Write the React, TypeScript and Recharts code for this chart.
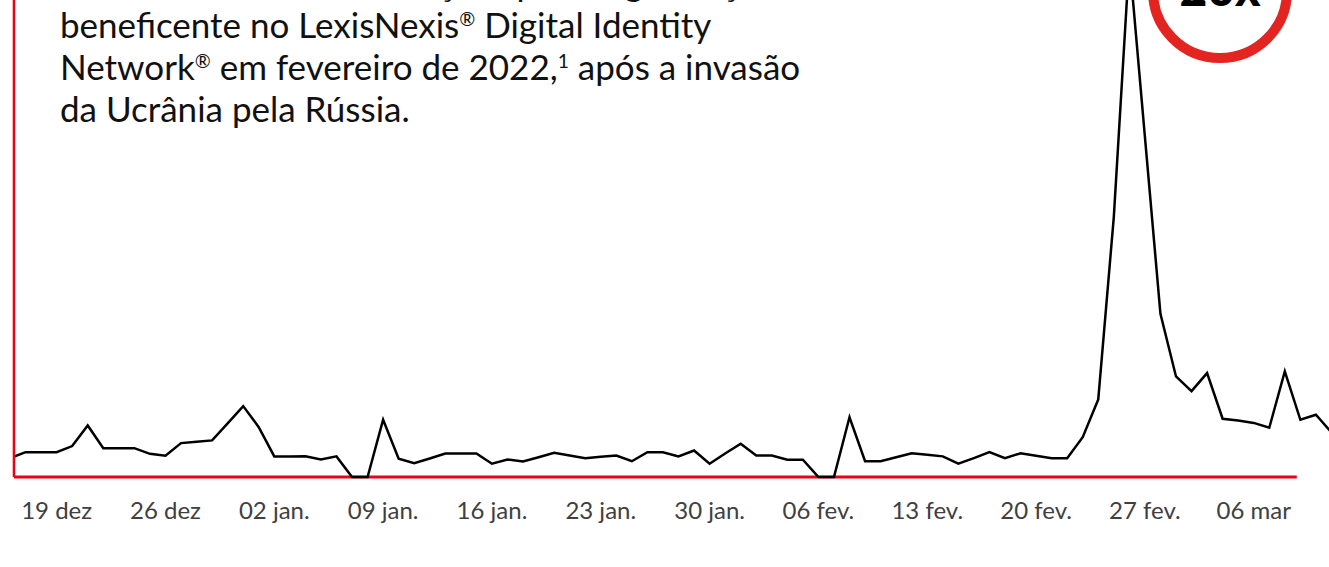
import React from 'react';
import { LineChart, Line, XAxis, YAxis, ReferenceLine } from 'recharts';

// Daily index of charity-donation transactions, 16 dez 2021 (day 0) to 11 mar 2022 (day 85)
const dailyIndex: number[] = [
  0.9, 1.18, 1.18, 1.18, 1.47, 2.45, 1.37, 1.37, 1.37, 1.1,
  1.01, 1.61, 1.67, 1.74, 2.55, 3.37, 2.37, 0.98, 0.98, 0.99,
  0.83, 0.98, 0.0, 0.0, 2.72, 0.87, 0.66, 0.88, 1.12, 1.12,
  1.12, 0.63, 0.83, 0.74, 0.94, 1.15, 1.02, 0.89, 0.96, 1.02,
  0.75, 1.18, 1.18, 0.98, 1.26, 0.63, 1.12, 1.58, 1.02, 1.02,
  0.82, 0.82, 0.0, 0.0, 2.84, 0.75, 0.75, 0.94, 1.13, 1.06,
  0.98, 0.63, 0.9, 1.18, 0.89, 1.13, 1.01, 0.89, 0.89, 1.89,
  3.69, 12.35, 24.62, 16.18, 7.76, 4.78, 4.08, 4.94, 2.77, 2.69,
  2.57, 2.34, 5.02, 2.72, 2.96, 2.12,
];

const tickDays: number[] = [3, 10, 17, 24, 31, 38, 45, 52, 59, 66, 73, 80];
const tickLabels: string[] = [
  '19 dez', '26 dez', '02 jan.', '09 jan.', '16 jan.', '23 jan.',
  '30 jan.', '06 fev.', '13 fev.', '20 fev.', '27 fev.', '06 mar',
];

const titleLines: string[] = [
  'Aumento de 20x em doações para organização',
  'beneficente no LexisNexis',
  'Network',
  'da Ucrânia pela Rússia.',
];

const badgeText = '20x';

const xDomain: [number, number] = [0.257, 86];
const yDomain: [number, number] = [0, 26];
const axisEndDay = 82.77;

const data = dailyIndex.map((value, day) => ({ day, value }));

const RED = '#e3061b';

const Sup = ({ children }: { children: React.ReactNode }) => (
  <span style={{ fontSize: '0.55em', position: 'relative', top: '-0.62em', lineHeight: 1 }}>{children}</span>
);

export default function App() {
  return (
    <div
      style={{
        position: 'fixed',
        left: 0,
        top: 0,
        width: 1329,
        height: 567,
        overflow: 'hidden',
        background: '#ffffff',
      }}
    >
      <div style={{ position: 'absolute', left: 0, top: -70.5 }}>
        <LineChart
          width={1347}
          height={607}
          data={data}
          margin={{ top: 0, right: 0, bottom: 0, left: 0 }}
        >
          <YAxis
            domain={yDomain}
            width={14}
            tick={false}
            tickLine={false}
            axisLine={{ stroke: RED, strokeWidth: 2.6 }}
          />
          <XAxis
            type="number"
            dataKey="day"
            domain={xDomain}
            allowDataOverflow
            ticks={tickDays}
            interval={0}
            tickFormatter={(d: number) => tickLabels[tickDays.indexOf(d)] ?? ''}
            height={60}
            axisLine={false}
            tickLine={false}
            tickSize={0}
            tickMargin={25}
            tick={{ fill: '#404040', fontSize: 24, fontFamily: 'Lato' }}
          />
          <ReferenceLine
            segment={[
              { x: xDomain[0], y: 0 },
              { x: axisEndDay, y: 0 },
            ]}
            stroke={RED}
            strokeWidth={2.8}
          />
          <Line
            type="linear"
            dataKey="value"
            stroke="#000000"
            strokeWidth={2.5}
            dot={false}
            isAnimationActive={false}
          />
        </LineChart>
      </div>

      <div
        style={{
          position: 'absolute',
          left: 60,
          top: -39,
          fontFamily: 'Lato',
          fontSize: 35,
          lineHeight: '42px',
          color: '#111111',
          whiteSpace: 'nowrap',
        }}
      >
        <div>{titleLines[0]}</div>
        <div>
          {titleLines[1]}
          <Sup>®</Sup> Digital Identity
        </div>
        <div>
          {titleLines[2]}
          <Sup>®</Sup> em fevereiro de 2022,<Sup>1</Sup> após a invasão
        </div>
        <div>{titleLines[3]}</div>
      </div>

      <div
        style={{
          position: 'absolute',
          left: 1148,
          top: -81,
          width: 144,
          height: 144,
          boxSizing: 'border-box',
          border: '10px solid #e42421',
          borderRadius: '50%',
        }}
      />
      <div
        style={{
          position: 'absolute',
          left: 1160,
          width: 120,
          top: -35,
          textAlign: 'center',
          fontFamily: 'Lato',
          fontWeight: 900,
          fontSize: 48,
          lineHeight: '46px',
          color: '#000000',
        }}
      >
        {badgeText}
      </div>
    </div>
  );
}
